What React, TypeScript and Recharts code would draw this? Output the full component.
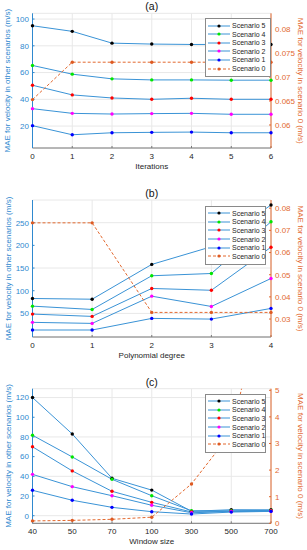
import React from 'react';
import { LineChart, Line, XAxis, YAxis, CartesianGrid, Legend } from 'recharts';

const SCENARIOS = ['Scenario 5', 'Scenario 4', 'Scenario 3', 'Scenario 2', 'Scenario 1', 'Scenario 0'];
const KEYS = ['s5', 's4', 's3', 's2', 's1', 's0'];
const MARKER_COLORS = ['#000000', '#00e600', '#ff0000', '#ff00ff', '#0000ff', '#de5a22'];

const LEFT_COLOR = '#2f89cf';
const LINE_COLOR = '#3a93d6';
const RIGHT_COLOR = '#e2692f';
const TEXT_COLOR = '#262626';

// (a) iterations
const ITERATIONS = ['0', '1', '2', '3', '4', '5', '6'];
const A_S5 = [95, 90.8, 82, 81.3, 81, 81, 81];
const A_S4 = [65.3, 58.8, 55.3, 54.5, 54.5, 54.3, 54.3];
const A_S3 = [50.5, 43.3, 41, 40, 40.8, 40, 40];
const A_S2 = [33, 29.5, 29, 29.3, 29.5, 28.8, 28.8];
const A_S1 = [20.3, 13.5, 15, 15.3, 15.5, 15, 15];
const A_S0 = [0.0653, 0.0731, 0.0731, 0.0731, 0.0731, 0.0731, 0.0731];

// (b) polynomial degree
const DEGREES = ['0', '1', '2', '3', '4'];
const B_S5 = [82.9, 81.3, 158, 197, 289];
const B_S4 = [66, 58.7, 133, 138, 252];
const B_S3 = [48.5, 43.4, 105, 101, 196];
const B_S2 = [30.3, 28, 88, 65.3, 127];
const B_S1 = [13.4, 13.4, 39, 37.5, 61];
const B_S0 = [0.0734, 0.0734, 0.033, 0.033, 0.033];

// (c) window size
const WINDOWS = ['40', '50', '70', '100', '300', '500', '700'];
const C_S5 = [120, 83, 38, 26, 4.5, 6.1, 6];
const C_S4 = [81.7, 59.7, 37, 20.3, 5, 5, 5.4];
const C_S3 = [70, 45.5, 24.8, 13.6, 3.8, 4.5, 5];
const C_S2 = [42, 29.5, 20.3, 10.6, 3, 4.3, 4.6];
const C_S1 = [25.8, 15.7, 8.5, 4.1, 1.7, 3.7, 4.4];
const C_S0 = [0.09, 0.11, 0.15, 0.23, 1.48, 3.4, 9.8];

const buildRows = (xs: string[], series: number[][]) =>
  xs.map((x, i) => {
    const row: any = { x };
    KEYS.forEach((k, j) => (row[k] = series[j][i]));
    return row;
  });

const AxisTitle = ({ viewBox, value, side, color, size }: any) => {
  if (!viewBox) return null;
  const { x, y, width, height } = viewBox;
  let cx = x + width / 2;
  let cy = y + height / 2;
  let rot = 0;
  if (side === 'left') { cx = x + 8; rot = -90; }
  if (side === 'right') { cx = x + 29; rot = 90; }
  if (side === 'bottom') { cy = y + 18; }
  return (
    <text x={cx} y={cy} transform={`rotate(${rot}, ${cx}, ${cy})`} textAnchor="middle"
      dominantBaseline="central" fontSize={size || 8} fill={color}>
      {value}
    </text>
  );
};

const Marker = (props: any) => {
  const { cx, cy, index, fill } = props;
  if (cx == null || cy == null) return <g key={index} />;
  return <circle key={index} cx={cx} cy={cy} r={1.7} fill={fill} />;
};

const renderLegend = (props: any) => {
  const items = [...(props.payload || [])].sort(
    (a: any, b: any) => SCENARIOS.indexOf(a.value) - SCENARIOS.indexOf(b.value)
  );
  return (
    <div style={{ background: '#fff', border: '1px solid #8a8a8a', padding: '2px 0 3px 0' }}>
      {items.map((it: any) => {
        const idx = SCENARIOS.indexOf(it.value);
        const dashed = idx === 5;
        return (
          <div key={it.value} style={{ display: 'flex', alignItems: 'center', height: 8.6, fontSize: 7, color: TEXT_COLOR, whiteSpace: 'nowrap' }}>
            <svg width={26} height={8} style={{ flexShrink: 0 }}>
              <line x1={2} x2={24} y1={4} y2={4} stroke={dashed ? RIGHT_COLOR : LINE_COLOR}
                strokeWidth={1} strokeDasharray={dashed ? '3 2' : undefined} />
              <circle cx={13} cy={4} r={1.6} fill={MARKER_COLORS[idx]} />
            </svg>
            <span>{it.value}</span>
          </div>
        );
      })}
    </div>
  );
};

const fmt = (v: number) => String(Number(v.toFixed(4)));

interface PanelProps {
  title: string;
  xLabel: string;
  rows: any[];
  height: number;
  top: number;
  xHeight: number;
  leftDomain: number[];
  leftTicks: number[];
  rightDomain: number[];
  rightTicks: number[];
  legendTop: number;
  legendWidth: number;
}

const Panel = (p: PanelProps) => (
  <div style={{ position: 'relative', width: 307, height: p.height }}>
    <div style={{ position: 'absolute', left: 32.5, width: 238.5, top: p.top - 13, height: 13, lineHeight: '13px',
      textAlign: 'center', fontSize: 10.5, color: '#111', zIndex: 2 }}>{p.title}</div>
    <LineChart width={307} height={p.height} data={p.rows} margin={{ top: p.top, right: 0, left: 0, bottom: 0 }}>
      <CartesianGrid stroke="#e8e8e8" yAxisId="left" />
      <XAxis dataKey="x" interval={0} height={p.xHeight} tickSize={-2} tickMargin={7}
        stroke="#7a7a7a" tick={{ fontSize: 8, fill: TEXT_COLOR }}
        label={{ value: p.xLabel, content: (lp: any) => <AxisTitle {...lp} value={p.xLabel} side="bottom" color={TEXT_COLOR} /> }} />
      <XAxis xAxisId="top" dataKey="x" orientation="top" height={0} tick={false} tickLine={false} stroke="#8c8c8c" />
      <YAxis yAxisId="left" width={32.5} domain={p.leftDomain} ticks={p.leftTicks} allowDataOverflow
        tickSize={-2} tickMargin={5.5} stroke={LEFT_COLOR} tick={{ fontSize: 8, fill: LEFT_COLOR }}
        label={{ value: 'l', content: (lp: any) => <AxisTitle {...lp} value="MAE for velocity in other scenarios (m/s)" side="left" color={LEFT_COLOR} /> }} />
      <YAxis yAxisId="right" orientation="right" width={36} domain={p.rightDomain} ticks={p.rightTicks} allowDataOverflow
        tickSize={-2} tickMargin={6} stroke={RIGHT_COLOR} tick={{ fontSize: 8, fill: RIGHT_COLOR }} tickFormatter={fmt}
        label={{ value: 'r', content: (lp: any) => <AxisTitle {...lp} value="MAE for velocity in scenario 0 (m/s)" side="right" color={RIGHT_COLOR} /> }} />
      <Legend layout="vertical" align="center" verticalAlign="middle" content={renderLegend}
        wrapperStyle={{ position: 'absolute', left: 205, top: p.legendTop, width: p.legendWidth }} />
      {KEYS.map((k, i) => {
        const isZero = i === 5;
        return (
          <Line key={k} type="linear" dataKey={k} name={SCENARIOS[i]} yAxisId={isZero ? 'right' : 'left'}
            stroke={isZero ? RIGHT_COLOR : LINE_COLOR} strokeWidth={1} strokeDasharray={isZero ? '3 2' : undefined}
            dot={(dp: any) => <Marker {...dp} key={dp.index} fill={MARKER_COLORS[i]} />}
            activeDot={false} isAnimationActive={false} />
        );
      })}
    </LineChart>
  </div>
);

export default function App() {
  const rowsA = buildRows(ITERATIONS, [A_S5, A_S4, A_S3, A_S2, A_S1, A_S0]);
  const rowsB = buildRows(DEGREES, [B_S5, B_S4, B_S3, B_S2, B_S1, B_S0]);
  const rowsC = buildRows(WINDOWS, [C_S5, C_S4, C_S3, C_S2, C_S1, C_S0]);
  return (
    <div style={{ position: 'absolute', left: 0, top: 0, width: 307, height: 550, background: '#fff',
      fontFamily: '"Liberation Sans", Arial, sans-serif' }}>
      <Panel title="(a)" xLabel="Iterations" rows={rowsA} height={180} top={13.3} xHeight={32}
        leftDomain={[3.6, 104.3]} leftTicks={[20, 40, 60, 80, 100]}
        rightDomain={[0.0552, 0.0833]} rightTicks={[0.06, 0.065, 0.07, 0.075, 0.08]}
        legendTop={18.3} legendWidth={66} />
      <Panel title="(b)" xLabel="Polynomial degree" rows={rowsB} height={186} top={20} xHeight={29}
        leftDomain={[-2, 300]} leftTicks={[50, 100, 150, 200, 250]}
        rightDomain={[0.0219, 0.0837]} rightTicks={[0.03, 0.04, 0.05, 0.06, 0.07, 0.08]}
        legendTop={26} legendWidth={61} />
      <Panel title="(c)" xLabel="Window size" rows={rowsC} height={184} top={22.7} xHeight={26.7}
        leftDomain={[-7.7, 129]} leftTicks={[0, 20, 40, 60, 80, 100, 120]}
        rightDomain={[0, 5.06]} rightTicks={[0, 1, 2, 3, 4, 5]}
        legendTop={28} legendWidth={61} />
    </div>
  );
}
